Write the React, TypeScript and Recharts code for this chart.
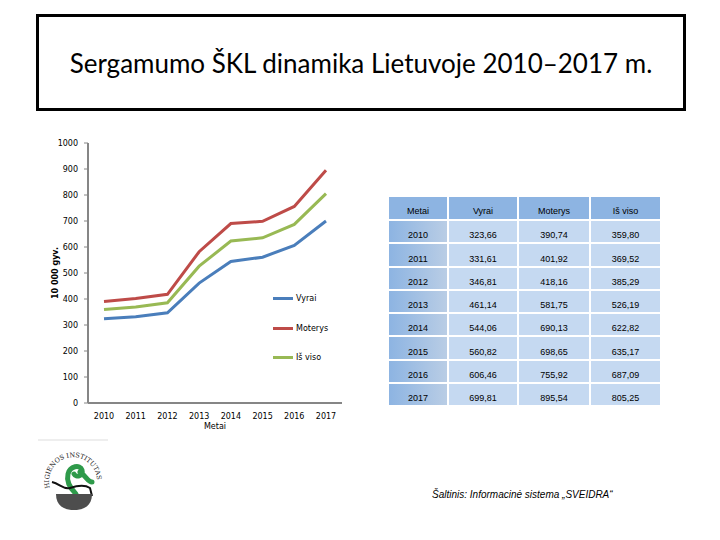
import React from 'react'
import { LineChart, Line, XAxis, YAxis, Legend } from 'recharts'

const years = ['2010', '2011', '2012', '2013', '2014', '2015', '2016', '2017']
const vyrai = [323.66, 331.61, 346.81, 461.14, 544.06, 560.82, 606.46, 699.81]
const moterys = [390.74, 401.92, 418.16, 581.75, 690.13, 698.65, 755.92, 895.54]
const isViso = [359.8, 369.52, 385.29, 526.19, 622.82, 635.17, 687.09, 805.25]
const yTicks = [0, 100, 200, 300, 400, 500, 600, 700, 800, 900, 1000]

const seriesKeys = ['vyrai', 'moterys', 'isViso']
const seriesNames = ['Vyrai', 'Moterys', 'Iš viso']
const seriesColors = ['#4A7EBB', '#BE4B48', '#98B954']

const data = years.map((y, i) => ({
  year: y,
  vyrai: vyrai[i],
  moterys: moterys[i],
  isViso: isViso[i],
}))

const fmt = (v: number) => v.toFixed(2).replace('.', ',')

const tickStyle = { fontFamily: 'DejaVu Sans', fontSize: 8, fill: '#000' }

// legend drawn as a plain vertical list, like the Excel one
// eslint-disable-next-line @typescript-eslint/no-explicit-any
const renderLegend = (props: any) => {
  // eslint-disable-next-line @typescript-eslint/no-explicit-any
  const payload = [...(props.payload || [])].sort(
    (a: any, b: any) => seriesNames.indexOf(a.value) - seriesNames.indexOf(b.value)
  )
  return (
    <div>
      {payload.map((p: any, i: number) => (
        <div
          key={`leg-${i}`}
          style={{ display: 'flex', alignItems: 'center', height: 29.5 }}
        >
          <div style={{ width: 20, height: 3, background: p.color }} />
          <span
            style={{
              marginLeft: 3,
              fontFamily: 'DejaVu Sans',
              fontSize: 8,
              color: '#000',
            }}
          >
            {p.value}
          </span>
        </div>
      ))}
    </div>
  )
}

const headCell: React.CSSProperties = {
  background: '#8DB4E2',
  height: 19,
  padding: '0 0 3px 0',
  verticalAlign: 'bottom',
  textAlign: 'center',
  fontWeight: 'normal',
}

const bodyCell: React.CSSProperties = {
  background: '#C5D9F1',
  height: 19.25,
  padding: '0 0 2px 0',
  verticalAlign: 'bottom',
  textAlign: 'center',
}

const firstCell: React.CSSProperties = {
  ...bodyCell,
  background: 'linear-gradient(to right, #8DB4E2, #B9CDE5)',
}

function Logo() {
  return (
    <svg width={74} height={82} style={{ position: 'absolute', left: 36, top: 438 }}>
      <line x1={2} y1={2} x2={72} y2={2} stroke='#ddd' strokeWidth={1} />
      <defs>
        <path id='logoArc' d='M 14 50 A 24 24 0 1 1 60 50' />
      </defs>
      <text style={{ fontFamily: 'DejaVu Serif', fontSize: 6.5, fill: '#222' }}>
        <textPath href='#logoArc'>HIGIENOS INSTITUTAS</textPath>
      </text>
      <path
        d='M 40 56 C 34 50 30 44 32 36 C 34 28 44 26 46 32 C 48 38 40 40 38 36 M 44 34 C 50 38 52 44 56 44'
        stroke='#2E9A4A'
        strokeWidth={5}
        fill='none'
        strokeLinecap='round'
      />
      <path d='M 16 44 C 24 46 28 52 34 50 C 40 48 48 46 54 50 L 56 58' stroke='#111' strokeWidth={2} fill='none' />
      <path d='M 20 56 L 56 56 C 56 68 48 72 38 72 C 28 72 20 68 20 56 Z' fill='#4D4D4D' />
    </svg>
  )
}

export default function App() {
  return (
    <div
      style={{
        position: 'absolute',
        left: 0,
        top: 0,
        width: 720,
        height: 540,
        background: '#fff',
        overflow: 'hidden',
      }}
    >
      <div
        style={{
          position: 'absolute',
          left: 36,
          top: 14,
          width: 644,
          height: 91,
          border: '3px solid #000',
          display: 'flex',
          alignItems: 'center',
          justifyContent: 'center',
          fontFamily: 'Lato',
          fontSize: 26,
          color: '#000',
        }}
      >
        Sergamumo ŠKL dinamika Lietuvoje 2010–2017 m.
      </div>

      <div style={{ position: 'absolute', left: 0, top: 0 }}>
        <LineChart
          width={360}
          height={440}
          data={data}
          margin={{ top: 143, right: 18, left: 0, bottom: 7 }}
        >
          <XAxis
            dataKey='year'
            height={30}
            padding={{ left: 16, right: 16 }}
            tickLine={false}
            axisLine={{ stroke: '#868686', strokeWidth: 2 }}
            tick={tickStyle}
            tickMargin={4}
            interval={0}
            label={{
              value: 'Metai',
              position: 'insideBottom',
              offset: 4,
              style: tickStyle,
            }}
          />
          <YAxis
            width={88}
            domain={[0, 1000]}
            ticks={yTicks}
            interval={0}
            tickSize={4}
            tickMargin={6}
            tickLine={{ stroke: '#868686' }}
            axisLine={{ stroke: '#868686', strokeWidth: 2 }}
            tick={tickStyle}
            label={{
              value: '10 000 gyv.',
              angle: -90,
              position: 'center',
              dx: 11,
              style: { ...tickStyle, fontWeight: 'bold' },
            }}
          />
          <Legend
            layout='vertical'
            content={renderLegend}
            wrapperStyle={{
              position: 'absolute',
              left: 273,
              top: 284,
              width: 80,
              height: 0,
              overflow: 'visible',
            }}
          />
          {seriesKeys.map((k, i) => (
            <Line
              key={k}
              dataKey={k}
              name={seriesNames[i]}
              stroke={seriesColors[i]}
              strokeWidth={3}
              dot={false}
              isAnimationActive={false}
            />
          ))}
        </LineChart>
      </div>

      <table
        style={{
          position: 'absolute',
          left: 387,
          top: 195,
          borderCollapse: 'separate',
          borderSpacing: 2,
          fontFamily: 'Liberation Sans',
          fontSize: 9,
          color: '#000',
        }}
      >
        <thead>
          <tr>
            <th style={{ ...headCell, width: 58 }}>Metai</th>
            <th style={{ ...headCell, width: 68 }}>Vyrai</th>
            <th style={{ ...headCell, width: 70 }}>Moterys</th>
            <th style={{ ...headCell, width: 69 }}>Iš viso</th>
          </tr>
        </thead>
        <tbody>
          {years.map((y, i) => (
            <tr key={y}>
              <td style={firstCell}>{y}</td>
              <td style={bodyCell}>{fmt(vyrai[i])}</td>
              <td style={bodyCell}>{fmt(moterys[i])}</td>
              <td style={bodyCell}>{fmt(isViso[i])}</td>
            </tr>
          ))}
        </tbody>
      </table>

      <Logo />

      <div
        style={{
          position: 'absolute',
          left: 432,
          top: 489,
          fontFamily: 'Liberation Sans',
          fontStyle: 'italic',
          fontSize: 10,
          color: '#000',
          whiteSpace: 'nowrap',
        }}
      >
        Šaltinis: Informacinė sistema „SVEIDRA“
      </div>
    </div>
  )
}
